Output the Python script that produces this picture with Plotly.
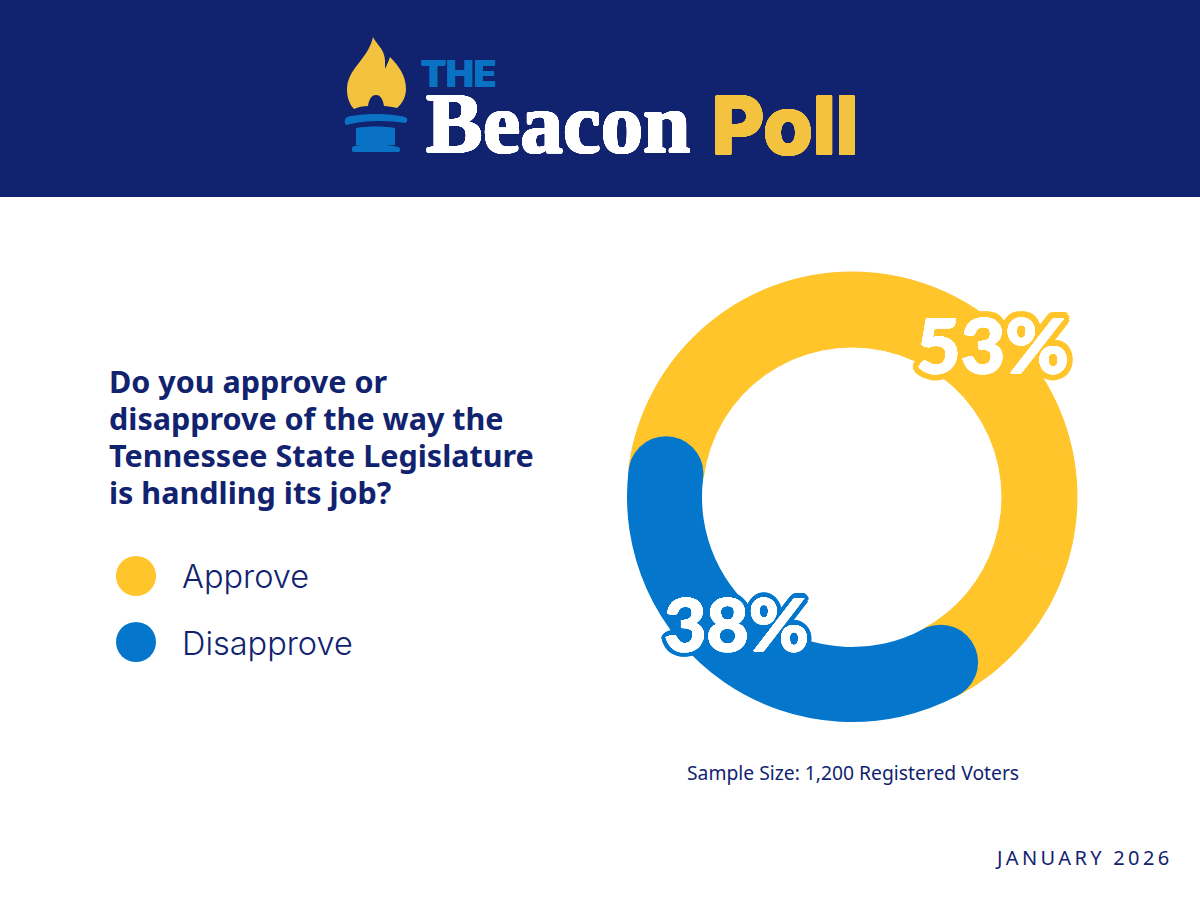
import math
import plotly.graph_objects as go

# ---- data ----
RESPONSES = ["Approve", "Disapprove"]
APPROVE = 53
DISAPPROVE = 38
REMAINDER = 100 - APPROVE - DISAPPROVE
RESPONSE_LABELS = ["53%", "38%"]
QUESTION_LINES = ["Do you approve or", "disapprove of the way the",
                  "Tennessee State Legislature", "is handling its job?"]
SAMPLE_NOTE = "Sample Size: 1,200 Registered Voters"
DATE_NOTE = "JANUARY 2026"

W, H = 1200, 900
NAVY, YEL, BLU = "#11236F", "#FFC52B", "#0477CD"
LOGO_YEL, LOGO_BLU = "#F3C33F", "#0A72C4"

CX, CY, R_OUT, R_IN = 852, 497, 225, 150
R_MID = (R_OUT + R_IN) / 2
R_CAP = (R_OUT - R_IN) / 2
START_DEG = 151.8
CAP_SHARE = math.degrees(R_CAP / R_MID) / 3.6  # a rounded end takes this share of the ring
BODY = DISAPPROVE - CAP_SHARE


def px(x):
    return x / W


def py(y):
    return 1 - y / H


def path(cmds):
    out = []
    for c in cmds:
        if isinstance(c, str):
            out.append(c)
        else:
            out.append(f"{px(c[0]):.5f},{py(c[1]):.5f}")
    return " ".join(out)


def circle(x, y, r, color):
    return dict(type="circle", xref="paper", yref="paper", layer="above",
                x0=px(x - r), x1=px(x + r), y0=py(y + r), y1=py(y - r),
                fillcolor=color, line_width=0)


def shape_path(cmds, color):
    return dict(type="path", xref="paper", yref="paper", layer="above",
                path=path(cmds), fillcolor=color, line_width=0)


def text(x, y, s, size, color, family, weight=400, anchor="left", shadow=None):
    font = dict(size=size, color=color, family=family, weight=weight)
    if shadow:
        font["shadow"] = shadow
    return dict(x=px(x), y=py(y), xref="paper", yref="paper", text=s, showarrow=False,
                xanchor=anchor, yanchor="middle", font=font, borderpad=0)


def outline(color, r=4.5):
    parts = []
    for i in range(24):
        a = i * math.pi / 12
        parts.append(f"{r*math.cos(a):.1f}px {r*math.sin(a):.1f}px 0 {color}")
    return ", ".join(parts)


fig = go.Figure(go.Pie(
    labels=[RESPONSES[1], RESPONSES[0], "Other"],
    values=[BODY, APPROVE, REMAINDER + CAP_SHARE],
    marker=dict(colors=[BLU, YEL, YEL], line=dict(color=[BLU, YEL, YEL], width=[0, 1, 1])),
    hole=R_IN / R_OUT, sort=False, direction="clockwise", rotation=START_DEG,
    textinfo="none", hoverinfo="label", showlegend=False,
    domain=dict(x=[px(CX - R_OUT), px(CX + R_OUT)], y=[py(CY + R_OUT), py(CY - R_OUT)]),
))

end_deg = START_DEG + BODY * 3.6
caps = []
for d in (START_DEG, end_deg):
    a = math.radians(d)
    caps.append(circle(CX + R_MID * math.sin(a), CY - R_MID * math.cos(a), R_CAP, BLU))

flame = ["M", (373, 37), "C", (376, 44), (384, 48), (385, 60), "C", (385, 64), (385, 67), (385, 69),
         "C", (387, 65), (389, 60), (390, 57), "C", (399, 66), (406, 76), (406, 89),
         "C", (406, 97), (402, 104), (397, 108), "C", (393, 107), (388, 106), (384, 106),
         "C", (383, 100), (381, 95), (376, 95), "C", (371, 95), (369, 100), (368, 106),
         "C", (363, 106), (358, 107), (354, 109), "C", (350, 105), (347, 98), (347, 90),
         "C", (347, 68), (368, 60), (373, 37), "Z"]
band = ["M", (347, 117), "C", (362, 113), (390, 113), (405, 117), "C", (408, 118), (408, 122), (405, 123),
        "C", (390, 120), (362, 120), (347, 125), "C", (344, 125), (344, 118), (347, 117), "Z"]
base = ["M", (356, 128), "C", (368, 126), (384, 126), (395, 128), "L", (395, 145),
        "L", (356, 145), "Z"]
foot = ["M", (354, 146), "C", (368, 144), (384, 144), (398, 147), "C", (401, 148), (401, 152), (398, 152),
        "L", (354, 152), "C", (351, 152), (351, 147), (354, 146), "Z"]

shapes = [dict(type="rect", xref="paper", yref="paper", layer="below",
               x0=0, x1=1, y0=py(197), y1=1, fillcolor=NAVY, line_width=0)]
shapes += [shape_path(flame, LOGO_YEL), shape_path(band, LOGO_BLU),
           shape_path(base, LOGO_BLU), shape_path(foot, LOGO_BLU)]
shapes += caps
shapes += [circle(136, 576, 20, YEL), circle(136, 642, 20, BLU)]

ann = [
    text(420, 73, "THE", 37, LOGO_BLU, "Inter", 800, shadow=outline(LOGO_BLU, 0.3)),
    text(425, 123, "Beacon", 85, "white", "Liberation Serif", 700, shadow=outline("white", 0.8)),
    text(711, 124, "Poll", 80, LOGO_YEL, "Inter", 800, shadow=outline(LOGO_YEL, 1)),
    text(180.5, 576, RESPONSES[0], 32.5, NAVY, "Inter", 300),
    text(180.5, 643, RESPONSES[1], 32.5, NAVY, "Inter", 300),
    text(685.5, 772, SAMPLE_NOTE, 19.3, NAVY, "Noto Sans"),
    text(1170, 857, "\u2009".join(DATE_NOTE), 20, NAVY, "Noto Sans", anchor="right"),
    text(992, 343, RESPONSE_LABELS[0], 77, "white", "Lato", 900, anchor="center",
         shadow=outline("white", 0.5) + ", " + outline(YEL, 6.5)),
    text(736, 623, RESPONSE_LABELS[1], 73, "white", "Lato", 900, anchor="center",
         shadow=outline("white", 0.5) + ", " + outline(BLU, 5)),
]
for y, line in zip((381, 418, 455, 492), QUESTION_LINES):
    ann.append(text(108, y, line, 30.5, NAVY, "Noto Sans", 700))

fig.update_layout(width=W, height=H, margin=dict(l=0, r=0, t=0, b=0),
                  paper_bgcolor="white", plot_bgcolor="white",
                  shapes=shapes, annotations=ann)
fig.write_html("out.html", config=dict(displayModeBar=False),
               post_script="document.body.style.margin='0';")
